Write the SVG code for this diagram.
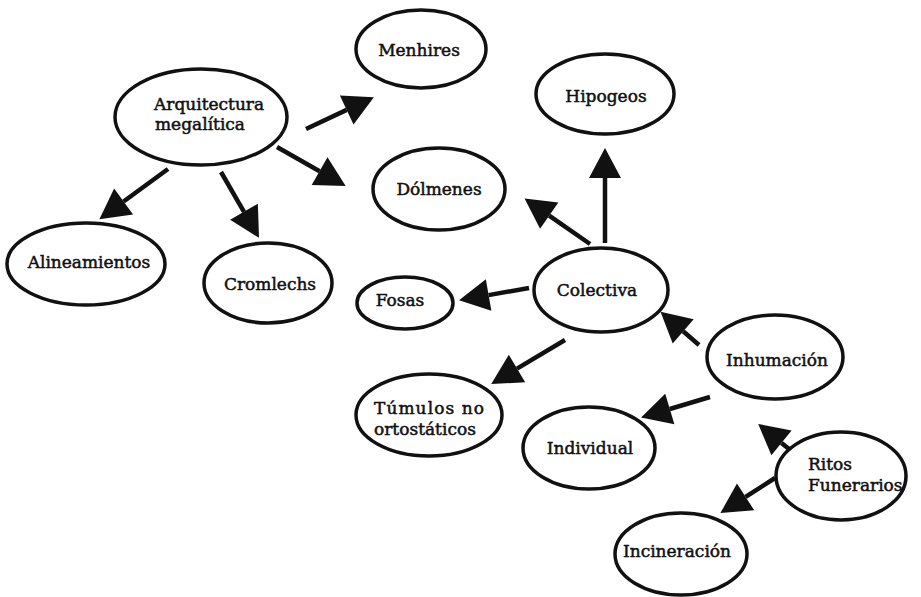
<svg xmlns="http://www.w3.org/2000/svg" width="921" height="597" viewBox="0 0 921 597">
<style>
.n ellipse{fill:#fff;stroke:#111;stroke-width:3.5}
.n text{font-family:"DejaVu Serif","Liberation Serif",serif;font-size:17px;fill:#111;stroke:#111;stroke-width:0.5}
.c{text-anchor:middle}
.e line{stroke:#111;stroke-width:4.5;marker-end:url(#ah)}
</style>
<defs>
<marker id="ah" markerUnits="userSpaceOnUse" markerWidth="30" markerHeight="32" refX="0" refY="16" orient="auto" overflow="visible">
<path d="M0,0 L30,16 L0,32 Z" fill="#111"/>
</marker>
</defs>
<rect width="921" height="597" fill="#fff"/>
<g id="connectors" class="e">
<line x1="306" y1="129" x2="346.7" y2="109.9"/>
<line x1="277" y1="147" x2="319.6" y2="171.2"/>
<line x1="168" y1="169" x2="123.6" y2="201.5"/>
<line x1="221" y1="172" x2="244" y2="211.8"/>
<line x1="605" y1="243" x2="605" y2="178"/>
<line x1="590" y1="244" x2="549.2" y2="215.6"/>
<line x1="529" y1="288" x2="488.6" y2="295.1"/>
<line x1="565" y1="340" x2="517" y2="368.6"/>
<line x1="699" y1="345" x2="683.2" y2="331.3"/>
<line x1="710" y1="397" x2="669.8" y2="409"/>
<line x1="789" y1="449" x2="781.5" y2="442.9"/>
<line x1="775" y1="478" x2="745.6" y2="496.9"/>
</g>
<g id="arquitectura" class="n"><ellipse cx="201" cy="117" rx="86" ry="48"/><text x="154" y="110">Arquitectura</text><text x="155" y="130">megalítica</text></g>
<g id="menhires" class="n"><ellipse cx="421" cy="49" rx="65" ry="39"/><text class="c" x="419" y="56">Menhires</text></g>
<g id="hipogeos" class="n"><ellipse cx="605" cy="94" rx="69" ry="40"/><text class="c" x="606" y="102">Hipogeos</text></g>
<g id="dolmenes" class="n"><ellipse cx="439" cy="189" rx="66" ry="41"/><text class="c" x="439" y="195">Dólmenes</text></g>
<g id="alineamientos" class="n"><ellipse cx="86" cy="264" rx="79" ry="41"/><text class="c" x="89" y="268">Alineamientos</text></g>
<g id="cromlechs" class="n"><ellipse cx="268" cy="283" rx="64" ry="40"/><text class="c" x="270" y="290">Cromlechs</text></g>
<g id="fosas" class="n"><ellipse cx="405" cy="303" rx="48" ry="26"/><text class="c" x="400" y="306">Fosas</text></g>
<g id="colectiva" class="n"><ellipse cx="601" cy="290" rx="67" ry="42"/><text class="c" x="597" y="296">Colectiva</text></g>
<g id="tumulos" class="n"><ellipse cx="429" cy="415" rx="73" ry="41"/><text x="374" y="414" textLength="110">Túmulos  no</text><text x="374" y="435">ortostáticos</text></g>
<g id="individual" class="n"><ellipse cx="589" cy="448" rx="66" ry="41"/><text class="c" x="590" y="454">Individual</text></g>
<g id="inhumacion" class="n"><ellipse cx="775" cy="357" rx="68" ry="42"/><text class="c" x="777" y="366">Inhumación</text></g>
<g id="ritos" class="n"><ellipse cx="841" cy="476" rx="65" ry="44"/><text x="808" y="470">Ritos</text><text x="808" y="491">Funerarios</text></g>
<g id="incineracion" class="n"><ellipse cx="681" cy="554" rx="66" ry="41"/><text class="c" x="677" y="557">Incineración</text></g>
</svg>
